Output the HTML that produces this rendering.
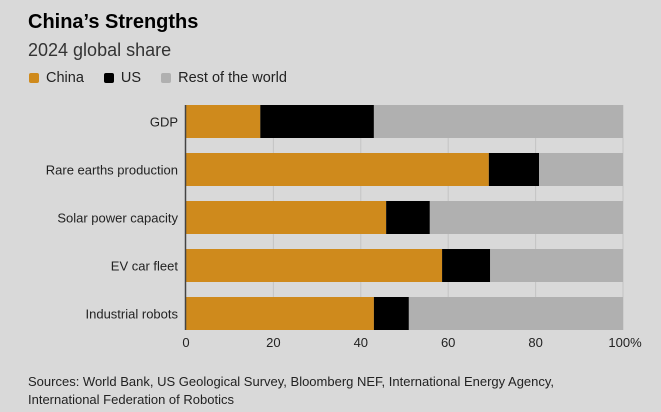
<!DOCTYPE html>
<html><head><style>
body{margin:0;background:#d9d9d9;font-family:"Liberation Sans",sans-serif;}
#wrap{position:relative;width:661px;height:412px;overflow:hidden;background:#d9d9d9;}
.sw{display:inline-block;width:10px;height:10px;margin-right:7px;border-radius:2px;vertical-align:-1px}
</style></head><body>
<div id="wrap">
<div style="position:absolute;left:28px;top:11px;font-size:20px;font-weight:bold;color:#000">China’s Strengths</div>
<div style="position:absolute;left:28px;top:40px;font-size:18px;color:#333">2024 global share</div>
<div style="position:absolute;left:29px;top:70px;font-size:14.5px;color:#222">
<span><span class="sw" style="background:#cf8a1c"></span>China</span>
<span style="margin-left:16px"><span class="sw" style="background:#000"></span>US</span>
<span style="margin-left:16px"><span class="sw" style="background:#b0b0b0"></span>Rest of the world</span>
</div>
<svg id="chart" width="661" height="412" style="position:absolute;left:0;top:0"></svg>
<div style="position:absolute;left:28px;top:373px;font-size:13px;line-height:18px;color:#222">Sources: World Bank, US Geological Survey, Bloomberg NEF, International Energy Agency,<br>International Federation of Robotics</div>
</div>
<script>
const categories=["GDP","Rare earths production","Solar power capacity","EV car fleet","Industrial robots"];
const chinaVals=[17,69.3,45.8,58.6,43];
const usVals=[26,11.5,10,11,8];
const ticks=[0,20,40,60,80,100];
const tickLabels=["0","20","40","60","80","100%"];
const NS="http://www.w3.org/2000/svg";
const svg=document.getElementById('chart');
const x0=186,x1=623,top0=105,pitch=48,bh=33;
const xs=v=>x0+(x1-x0)*v/100;
const ys=i=>top0+i*pitch;
function mk(t,a){const e=document.createElementNS(NS,t);for(const k in a)e.setAttribute(k,a[k]);svg.appendChild(e);return e;}
ticks.forEach((t,i)=>{
 if(t>0){const l=mk('line',{x1:xs(t),x2:xs(t),y1:top0,y2:ys(categories.length-1)+bh,stroke:'#c4c4c4','stroke-width':1});
 
 }
 const tx=mk('text',{x:xs(t)+(t===100?2:0),y:347,'text-anchor':'middle','font-size':13,fill:'#222','font-family':'Liberation Sans, sans-serif'});
 tx.textContent=tickLabels[i];
 
 
});
categories.forEach((c,i)=>{
 const y=ys(i);
 const a=mk('rect',{x:xs(0),y:y,width:xs(chinaVals[i])-xs(0),height:bh,fill:'#cf8a1c'});
 
 
 const b=mk('rect',{x:xs(chinaVals[i]),y:y,width:xs(chinaVals[i]+usVals[i])-xs(chinaVals[i]),height:bh,fill:'#000'});
 
 
 const r=mk('rect',{x:xs(chinaVals[i]+usVals[i]),y:y,width:xs(100)-xs(chinaVals[i]+usVals[i]),height:bh,fill:'#b0b0b0'});
 
 
 const t=mk('text',{x:178,y:y+bh/2+5,'text-anchor':'end','font-size':13,fill:'#222','font-family':'Liberation Sans, sans-serif'});
 t.textContent=c;
 
 
});
const ax=mk('line',{x1:x0-0.5,x2:x0-0.5,y1:top0,y2:ys(categories.length-1)+bh,stroke:'#444','stroke-width':1.5});


</script>
</body></html>
